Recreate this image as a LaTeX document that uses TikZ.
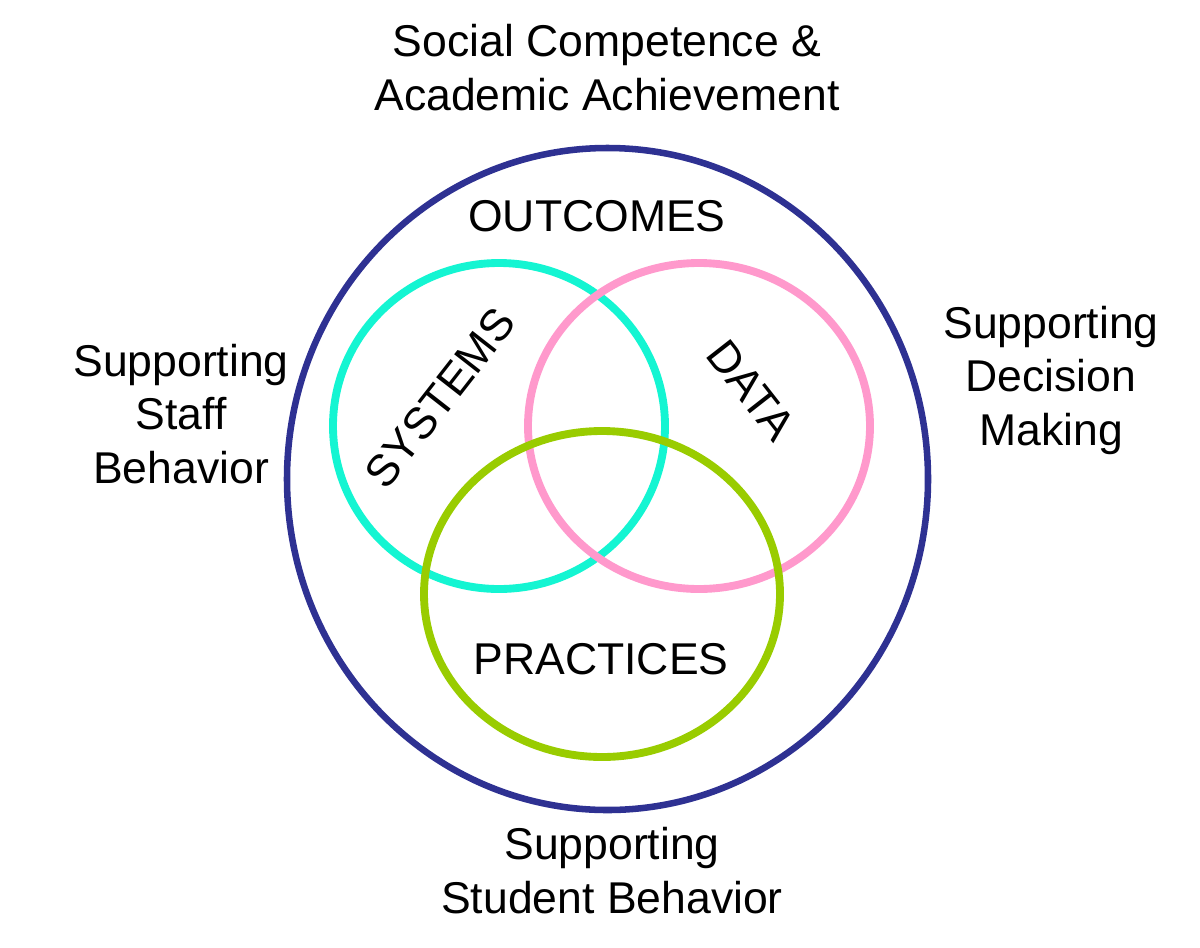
\documentclass[tikz,border=0pt]{standalone}
\usepackage{fontspec}
\setmainfont{Liberation Sans}

\definecolor{outerblue}{HTML}{2E3192}
\definecolor{systemsteal}{HTML}{14F5D2}
\definecolor{datapink}{HTML}{FF99CC}
\definecolor{practicesgreen}{HTML}{99CC00}

\tikzset{every picture/.style={line width=0.75pt},
  ring/.style={line width=5.9pt},
  venntext/.style={font=\fontsize{33.4}{40}\selectfont, inner sep=0.75pt, align=center}}

\begin{document}
\begin{tikzpicture}[x=0.75pt,y=0.75pt,yscale=-1,xscale=1]
        \path [use as bounding box] (0,0) rectangle (1200,947);

        %Shape: Ellipse [outer]
        \draw [color=outerblue, line width=4.9pt] (607.5,479) ellipse [x radius=320.5, y radius=331];
        %Shape: Ellipse [systems]
        \draw [ring, color=systemsteal] (499,426) ellipse [x radius=166, y radius=163];
        %Shape: Ellipse [data]
        \draw [ring, color=datapink] (699,426) ellipse [x radius=171, y radius=163];
        %Shape: Ellipse [practices]
        \draw [ring, color=practicesgreen] (602,594) ellipse [x radius=178, y radius=163];

        % Text Node
        \node [venntext, anchor=base] (goal) at (607,110) {Social Competence \&\\Academic Achievement};
        % Text Node
        \node [venntext, anchor=base] (outcomes) at (597,231) {OUTCOMES};
        % Text Node
        \node [venntext, rotate=52] (systems) at (440,398) {SYSTEMS};
        % Text Node
        \node [venntext, rotate=-52] (data) at (751,390) {DATA};
        % Text Node
        \node [venntext, anchor=base] (practices) at (601,674) {PRACTICES};
        % Text Node
        \node [venntext, anchor=base] (staff) at (181,483) {Supporting\\Staff\\Behavior};
        % Text Node
        \node [venntext, anchor=base] (decision) at (1051,445) {Supporting\\Decision\\Making};
        % Text Node
        \node [venntext, anchor=base] (student) at (612,913) {Supporting\\Student Behavior};
\end{tikzpicture}
\end{document}
